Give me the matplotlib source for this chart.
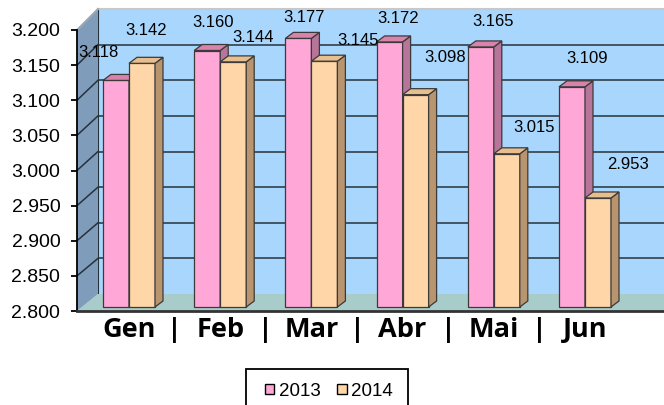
import matplotlib
matplotlib.use('Agg')
import matplotlib.pyplot as plt
import numpy as np
from matplotlib.patches import Polygon, Rectangle, Patch
from matplotlib.lines import Line2D
from matplotlib.transforms import IdentityTransform
from matplotlib.ticker import FormatStrFormatter

plt.rcParams['font.family'] = ['Liberation Sans', 'DejaVu Sans']

# data
months = ['Gen', 'Feb', 'Mar', 'Abr', 'Mai', 'Jun']
v2013 = [3.118, 3.160, 3.177, 3.172, 3.165, 3.109]
v2014 = [3.142, 3.144, 3.145, 3.098, 3.015, 2.953]
yticks = [2.80, 2.85, 2.90, 2.95, 3.00, 3.05, 3.10, 3.15, 3.20]

# where Excel dropped the value labels (pixels from bar top centre)
off2013 = [(-18, 28), (6, 28), (6, 21), (9, 23), (12, 25), (15, 28)]
off2014 = [(4, 33), (20, 24), (34, 21), (30, 37), (27, 26), (30, 33)]

# colours
PINK = '#FFA8D8'
PINK_SIDE = '#B8759A'
PINK_TOP = '#D882AC'
PEACH = '#FFD6A8'
PEACH_SIDE = '#B8946F'
PEACH_TOP = '#E8BE8E'
WALL = '#A8D6FC'
FLOOR = '#A8CCCA'
SIDE_WALL = '#7F9DBB'
GRID = '#26323C'
EDGE = '#3A3A3A'

W, H = 664, 405
def rect(l, t, r, b):
    return [l / W, 1 - b / H, (r - l) / W, (b - t) / H]

fig = plt.figure(figsize=(W / 100, H / 100), dpi=100)

YMIN, YMAX = 2.8, 3.2
XPX = 91.2                      # pixels per category
XMIN = -52 / XPX
XMAX = XMIN + 587 / XPX
BW = 26 / XPX
DX, DY = 8 / XPX, 6 / 712.5     # bar depth

# back wall
ax_b = fig.add_axes(rect(98, 9, 720, 294), zorder=0)
ax_b.set_facecolor(WALL)
ax_b.set_ylim(YMIN, YMAX)
ax_b.set_xlim(0, 1)
ax_b.set_yticks(yticks[1:-1])
ax_b.grid(True, axis='y', color=GRID, lw=1.1)
ax_b.tick_params(left=False, bottom=False, labelleft=False, labelbottom=False)
for s in ['right', 'bottom']:
    ax_b.spines[s].set_visible(False)
ax_b.spines['top'].set_color('#C8C8C8')
ax_b.spines['top'].set_linewidth(1.5)
ax_b.spines['left'].set_color(GRID)

# front plane: axis, ticks, category labels
ax_f = fig.add_axes(rect(77, 30, 664, 311), zorder=1)
ax_f.patch.set_alpha(0)
ax_f.set_xlim(XMIN, XMAX)
ax_f.set_ylim(YMIN, YMAX)
ax_f.set_yticks(yticks)
ax_f.yaxis.set_major_formatter(FormatStrFormatter('%.3f'))
ax_f.tick_params(axis='y', length=4, width=1.3, pad=8, labelsize=14, colors='black')
ax_f.set_xticks(range(len(months)))
ax_f.set_xticklabels(months)
ax_f.set_xticks(np.arange(len(months) - 1) + 0.5, minor=True)
ax_f.set_xticklabels(['|'] * (len(months) - 1), minor=True)
ax_f.tick_params(axis='x', which='both', length=0, pad=4)
for lab in ax_f.get_xticklabels(which='both'):
    lab.set_fontfamily('Open Sans')
    lab.set_fontweight('bold')
    lab.set_fontsize(19.5)
for s in ['top', 'right']:
    ax_f.spines[s].set_visible(False)
ax_f.spines['left'].set_linewidth(1.3)
ax_f.spines['bottom'].set_linewidth(2)
ax_f.spines['bottom'].set_color('#333333')

# side wall, floor and the diagonal grid lines between the two planes
fy = ax_f.get_yaxis_transform()
by = ax_b.get_yaxis_transform()
f_bl, f_tl = fy.transform((0, YMIN)), fy.transform((0, YMAX))
f_br = fy.transform((1, YMIN))
b_bl, b_tl = by.transform((0, YMIN)), by.transform((0, YMAX))
b_br = by.transform((1, YMIN))
fig.add_artist(Polygon([f_bl, f_br, b_br, b_bl], closed=True, facecolor=FLOOR,
                       edgecolor='none', transform=IdentityTransform(), zorder=0.5))
fig.add_artist(Polygon([f_bl, f_tl, b_tl, b_bl], closed=True, facecolor=SIDE_WALL,
                       edgecolor='none', transform=IdentityTransform(), zorder=0.5))
fig.add_artist(Line2D([f_tl[0], b_tl[0]], [f_tl[1], b_tl[1]], color='#A0A8B0', lw=1.5,
                      transform=IdentityTransform(), zorder=0.6))
for v in yticks[1:-1]:
    p, q = fy.transform((0, v)), by.transform((0, v))
    fig.add_artist(Line2D([p[0], q[0]], [p[1], q[1]], color=GRID, lw=1.1,
                          transform=IdentityTransform(), zorder=0.6))

# bars
ax_m = fig.add_axes(rect(77, 22, 664, 307), zorder=2)
ax_m.patch.set_alpha(0)
ax_m.set_xlim(XMIN, XMAX)
ax_m.set_ylim(YMIN, YMAX)
ax_m.axis('off')

def bar3d(x0, v, front, side, top):
    x1 = x0 + BW
    ax_m.add_patch(Rectangle((x0, YMIN), BW, v - YMIN, facecolor=front,
                             edgecolor=EDGE, lw=0.9, clip_on=False))
    ax_m.add_patch(Polygon([(x1, YMIN), (x1 + DX, YMIN + DY), (x1 + DX, v + DY), (x1, v)],
                           closed=True, facecolor=side, edgecolor=EDGE, lw=0.9, clip_on=False))
    ax_m.add_patch(Polygon([(x0, v), (x1, v), (x1 + DX, v + DY), (x0 + DX, v + DY)],
                           closed=True, facecolor=top, edgecolor=EDGE, lw=0.9, clip_on=False))

for i in range(len(months)):
    bar3d(i - BW, v2013[i], PINK, PINK_SIDE, PINK_TOP)
    bar3d(i, v2014[i], PEACH, PEACH_SIDE, PEACH_TOP)
    ax_m.annotate(f'{v2013[i]:.3f}', (i - BW / 2, v2013[i]), xytext=off2013[i],
                  textcoords='offset pixels', ha='center', va='center', fontsize=12,
                  annotation_clip=False)
    ax_m.annotate(f'{v2014[i]:.3f}', (i + BW / 2, v2014[i]), xytext=off2014[i],
                  textcoords='offset pixels', ha='center', va='center', fontsize=12,
                  annotation_clip=False)

# legend (box runs off the bottom of the picture, as in the original)
fig.add_artist(Rectangle((246 / W, -0.05), (408 - 246) / W, 0.05 + 1 - 369 / H,
                         transform=fig.transFigure, facecolor='white', edgecolor='black',
                         lw=1.3, zorder=3))
handles = [Patch(facecolor=PINK, edgecolor='black', lw=1),
           Patch(facecolor=PEACH, edgecolor='black', lw=1)]
leg = fig.legend(handles, ['2013', '2014'], loc='center', ncol=2, frameon=False,
                 bbox_to_anchor=(329 / W, 1 - 391 / H), fontsize=13.5,
                 handlelength=0.5, handleheight=0.5, handletextpad=0.25,
                 columnspacing=0.9)
leg.set_zorder(4)

fig.savefig('out.png', dpi=100)
